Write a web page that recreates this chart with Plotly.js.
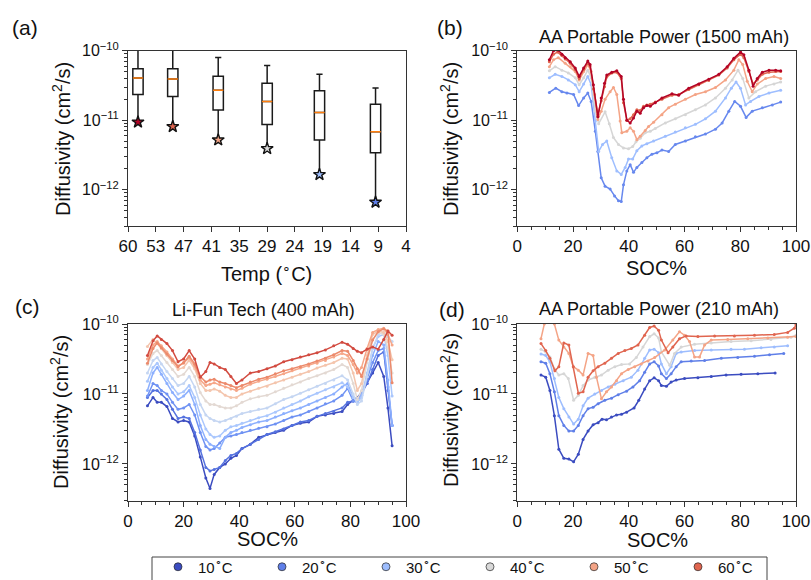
<!DOCTYPE html>
<html><head><meta charset="utf-8">
<script src="https://cdn.plot.ly/plotly-3.0.1.min.js"></script>
<style>html,body{margin:0;padding:0;background:#fff}#chart{width:811px;height:580px}</style>
</head><body><div id="chart"></div>
<script>
// ---------- (a) box statistics (cm^2/s) ----------
const boxTempC   = [57.6, 49.5, 39.5, 29.4, 19.3, 9.2];
const boxMin     = [9.4e-12, 8.1e-12, 5.2e-12, 3.9e-12, 1.65e-12, 6.6e-13];
const boxQ1      = [2.35e-11, 2.2e-11, 1.4e-11, 8.7e-12, 5.2e-12, 3.4e-12];
const boxMedian  = [4.06e-11, 3.9e-11, 2.7e-11, 1.85e-11, 1.29e-11, 6.8e-12];
const boxQ3      = [5.5e-11, 5.5e-11, 4.3e-11, 3.4e-11, 2.65e-11, 1.7e-11];
const boxMax     = [1.1e-10, 1.1e-10, 8.0e-11, 6.1e-11, 4.6e-11, 2.9e-11];
const starColors = ['#b40426', '#e0654f', '#f4a486', '#dcdcdc', '#9dbdfe', '#5f7fe8'];
const tempTickLabels = ['60','53','47','41','35','29','24','19','14','9','4'];
const yTickVals = [1e-12, 1e-11, 1e-10];
const yTickText = ['10<sup>−12</sup>', '10<sup>−11</sup>', '10<sup>−10</sup>'];

// ---------- (b) AA Portable Power 1500 mAh : log10 D ----------
const b_soc_hot = [11.5,13,14.5,16,17.2,19,20.8,22.2,23.8,25.3,26.1,27.3,28.9,30.1,31.3,32.1,33.9,35.7,37.3,38.1,39.3,40.5,41.7,42.9,44.1,45.3,46.5,47.7,49.5,51.9,55.5,57.9,61.5,65.1,68.7,72.3,75.3,77.7,80.1,81.3,83.1,84.6,86.1,87.9,90.3,92.7,94.5];
const b_log_70 = [-10.13,-10.0,-9.99,-10.05,-10.10,-10.16,-10.25,-10.37,-10.25,-10.15,-10.20,-10.49,-10.95,-10.68,-10.47,-10.35,-10.31,-10.29,-10.37,-10.70,-11.0,-11.04,-10.97,-10.87,-10.90,-10.82,-10.79,-10.80,-10.75,-10.68,-10.62,-10.64,-10.54,-10.48,-10.41,-10.34,-10.23,-10.11,-10.02,-10.06,-10.28,-10.51,-10.40,-10.31,-10.28,-10.28,-10.29];
const b_log_60 = [-10.16,-10.05,-10.02,-10.07,-10.12,-10.18,-10.27,-10.40,-10.27,-10.17,-10.22,-10.55,-10.92,-10.72,-10.52,-10.38,-10.32,-10.31,-10.40,-10.75,-11.0,-10.98,-10.92,-10.85,-10.86,-10.80,-10.78,-10.77,-10.74,-10.70,-10.64,-10.63,-10.56,-10.49,-10.43,-10.35,-10.25,-10.13,-10.05,-10.10,-10.30,-10.48,-10.42,-10.34,-10.31,-10.30,-10.30];
const b_soc_50 = [11.5,13,14.7,17.2,19,20.8,22.2,23.8,25.3,26.5,27.7,28.9,30.1,31.5,33.3,34.5,35.7,36.9,37.5,39.3,40.5,41.7,42.9,44.1,45.9,47.1,48.9,51.9,54.3,56.7,60.3,63.9,67.5,71.1,74.7,77.7,79.5,80.9,82.5,84.3,86.1,89.1,92.1,94.5];
const b_log_50 = [-10.23,-10.13,-10.10,-10.18,-10.23,-10.30,-10.42,-10.30,-10.20,-10.30,-10.63,-10.99,-10.87,-10.70,-10.59,-10.53,-10.63,-11.01,-11.18,-11.16,-11.11,-11.16,-11.28,-11.23,-11.15,-11.09,-11.03,-10.92,-10.82,-10.77,-10.70,-10.63,-10.59,-10.53,-10.42,-10.28,-10.13,-10.20,-10.44,-10.59,-10.48,-10.40,-10.37,-10.40];
const b_soc_40 = [11.5,13.6,16,18.3,20.8,22.2,23.8,25.3,26.5,28,29.2,31.5,33,34.5,36.3,38.1,39.9,41.4,42.6,44.1,45.9,47.7,49.5,53.1,56.7,60.3,63.9,67.5,71.1,74.7,77.1,79.2,80.9,83.1,85.5,89.1,92.1,94.5];
const b_log_40 = [-10.29,-10.23,-10.28,-10.32,-10.39,-10.49,-10.39,-10.28,-10.39,-10.87,-11.05,-10.88,-11.05,-11.25,-11.35,-11.40,-11.41,-11.38,-11.31,-11.26,-11.18,-11.16,-11.12,-11.04,-10.98,-10.92,-10.85,-10.78,-10.68,-10.54,-10.42,-10.28,-10.40,-10.68,-10.59,-10.51,-10.48,-10.45];
const b_soc_30 = [11.5,13.6,16,18.3,20.8,22.2,23.8,25.3,26.5,28,29.2,30.6,32.1,33.9,35.7,37.3,38.7,39.9,41.4,42.9,44.7,46.5,48.9,53.1,56.7,60.3,63.9,67.5,71.1,74.7,76.8,78.5,80.1,81.9,83.7,86.7,90.3,94.5];
const b_log_30 = [-10.39,-10.34,-10.37,-10.42,-10.49,-10.59,-10.48,-10.37,-10.49,-11.01,-11.45,-11.35,-11.30,-11.54,-11.73,-11.78,-11.68,-11.56,-11.56,-11.44,-11.37,-11.34,-11.30,-11.23,-11.17,-11.11,-11.06,-10.98,-10.87,-10.68,-10.54,-10.45,-10.54,-10.78,-10.73,-10.66,-10.61,-10.57];
const b_soc_20 = [11.5,13.8,16,17.8,20.2,22,23.8,25.3,26.5,28,28.9,30.1,31.5,33.3,34.9,36.3,37.3,38.1,39.3,40.5,41.7,42.9,44.7,46.5,48.3,50.1,51.9,54.3,56.7,60.3,63.9,67.5,71.1,73.5,75.9,78,80.1,82.1,84.3,87.9,91.5,94.5];
const b_log_20 = [-10.60,-10.54,-10.59,-10.61,-10.63,-10.79,-10.68,-10.61,-10.73,-11.16,-11.45,-11.83,-11.95,-11.99,-12.09,-12.16,-12.17,-11.93,-11.73,-11.64,-11.75,-11.68,-11.61,-11.54,-11.49,-11.47,-11.43,-11.45,-11.35,-11.30,-11.24,-11.20,-11.13,-11.04,-10.87,-10.73,-10.80,-10.96,-10.87,-10.82,-10.78,-10.74];

// ---------- (c) Li-Fun Tech 400 mAh : log10 D ----------
const c_soc = [7,9,10.5,12,14,16,18,20,22,24,26,28,29.5,31,33,35,37,39,41,44,47,50,53,56,59,62,65,68,71,74,77,79,81,82.5,84,86,88,90,92,93.5,95];
const c_log_60 = [-10.45,-10.24,-10.17,-10.22,-10.28,-10.38,-10.54,-10.50,-10.38,-10.50,-10.76,-10.68,-10.55,-10.57,-10.62,-10.65,-10.75,-10.85,-10.80,-10.70,-10.68,-10.64,-10.60,-10.54,-10.51,-10.47,-10.44,-10.41,-10.37,-10.31,-10.26,-10.29,-10.35,-10.39,-10.41,-10.36,-10.33,-10.36,-10.22,-10.10,-10.16];
const c_log_55 = [-10.56,-10.35,-10.27,-10.34,-10.43,-10.52,-10.61,-10.55,-10.46,-10.57,-10.75,-10.83,-10.80,-10.79,-10.83,-10.85,-10.88,-10.91,-10.88,-10.83,-10.79,-10.76,-10.71,-10.67,-10.64,-10.61,-10.57,-10.53,-10.49,-10.44,-10.38,-10.39,-10.52,-10.64,-10.75,-10.50,-10.23,-10.11,-10.07,-10.10,-10.84];
const c_log_50 = [-10.50,-10.30,-10.25,-10.31,-10.40,-10.50,-10.60,-10.56,-10.48,-10.60,-10.80,-10.88,-10.86,-10.84,-10.87,-10.90,-10.93,-10.95,-10.92,-10.86,-10.82,-10.79,-10.75,-10.71,-10.67,-10.63,-10.60,-10.56,-10.52,-10.47,-10.42,-10.45,-10.58,-10.70,-10.62,-10.35,-10.12,-10.08,-10.06,-10.15,-10.30];
const c_log_45 = [-10.32,-10.22,-10.28,-10.35,-10.45,-10.55,-10.65,-10.62,-10.52,-10.64,-10.85,-10.95,-10.95,-10.93,-10.96,-11.02,-11.05,-11.05,-11.00,-10.96,-10.92,-10.89,-10.84,-10.80,-10.76,-10.72,-10.68,-10.63,-10.59,-10.55,-10.49,-10.50,-10.70,-10.95,-10.85,-10.45,-10.15,-10.10,-10.12,-10.25,-10.51];
const c_log_40 = [-10.58,-10.42,-10.38,-10.45,-10.55,-10.65,-10.75,-10.72,-10.62,-10.75,-10.98,-11.10,-11.15,-11.15,-11.18,-11.20,-11.20,-11.17,-11.12,-11.07,-11.04,-11.02,-10.97,-10.92,-10.87,-10.83,-10.78,-10.74,-10.70,-10.65,-10.58,-10.62,-10.85,-11.08,-10.95,-10.55,-10.22,-10.12,-10.15,-10.35,-10.70];
const c_log_35 = [-10.70,-10.52,-10.48,-10.57,-10.68,-10.78,-10.88,-10.85,-10.75,-10.90,-11.15,-11.30,-11.35,-11.38,-11.40,-11.38,-11.35,-11.32,-11.28,-11.25,-11.22,-11.20,-11.14,-11.08,-11.04,-10.99,-10.94,-10.89,-10.85,-10.80,-10.74,-10.80,-11.00,-11.15,-11.10,-10.75,-10.35,-10.15,-10.12,-10.18,-10.25];
const c_log_30 = [-10.82,-10.62,-10.56,-10.66,-10.78,-10.90,-11.00,-10.97,-10.88,-11.05,-11.30,-11.50,-11.58,-11.62,-11.60,-11.52,-11.47,-11.45,-11.42,-11.38,-11.34,-11.31,-11.26,-11.20,-11.15,-11.10,-11.04,-10.99,-10.94,-10.90,-10.84,-10.90,-11.05,-11.12,-11.05,-10.70,-10.35,-10.18,-10.15,-10.45,-11.03];
const c_log_25 = [-10.95,-10.70,-10.62,-10.72,-10.85,-10.98,-11.08,-11.03,-10.95,-11.15,-11.45,-11.65,-11.72,-11.75,-11.78,-11.62,-11.55,-11.52,-11.48,-11.44,-11.40,-11.38,-11.33,-11.28,-11.24,-11.20,-11.15,-11.10,-11.05,-11.00,-10.90,-10.85,-11.05,-11.10,-11.02,-10.75,-10.45,-10.25,-10.30,-10.80,-11.45];
const c_log_20 = [-11.03,-10.85,-10.88,-10.95,-11.00,-11.12,-11.22,-11.20,-11.15,-11.30,-11.55,-11.75,-11.80,-11.78,-11.70,-11.62,-11.60,-11.58,-11.55,-11.52,-11.49,-11.47,-11.43,-11.38,-11.33,-11.30,-11.25,-11.20,-11.14,-11.10,-11.02,-10.92,-11.10,-11.12,-11.02,-10.80,-10.55,-10.38,-10.35,-10.90,-11.45];
const c_log_15 = [-11.05,-10.95,-10.95,-11.00,-11.08,-11.22,-11.35,-11.33,-11.35,-11.55,-11.80,-12.05,-12.10,-12.08,-12.05,-11.95,-11.88,-11.85,-11.78,-11.72,-11.65,-11.58,-11.54,-11.50,-11.45,-11.40,-11.38,-11.32,-11.28,-11.25,-11.20,-11.12,-11.10,-11.08,-11.00,-10.85,-10.65,-10.45,-10.40,-10.95,-11.45];
const c_log_10 = [-11.17,-11.05,-11.12,-11.12,-11.18,-11.35,-11.40,-11.38,-11.40,-11.60,-11.90,-12.20,-12.35,-12.15,-12.05,-12.00,-11.92,-11.88,-11.78,-11.72,-11.62,-11.58,-11.55,-11.52,-11.45,-11.42,-11.40,-11.32,-11.30,-11.28,-11.25,-11.15,-11.10,-11.05,-10.98,-10.85,-10.70,-10.55,-10.75,-11.20,-11.74];

// ---------- (d) AA Portable Power 210 mAh : log10 D ----------
const d_soc_10 = [8.5,10.2,11.7,13.3,14.9,16.7,18.5,20.2,21.9,23.6,25.4,27.2,29,30.4,32,33.8,35.6,37.4,39.2,41.9,43.6,45.7,47.5,49.1,50.7,51.7,53.5,55.2,57,60,64.8,69.6,74.9,80.3,86.3,92.5];
const d_log_10 = [-10.73,-10.76,-10.95,-11.31,-11.79,-11.92,-11.93,-11.97,-11.86,-11.65,-11.53,-11.44,-11.41,-11.36,-11.37,-11.33,-11.30,-11.29,-11.26,-11.20,-11.09,-10.93,-10.81,-10.77,-10.81,-10.88,-10.89,-10.83,-10.80,-10.78,-10.77,-10.75,-10.73,-10.72,-10.71,-10.70];
const d_soc_20 = [8.5,10.2,11.7,13.3,14.9,16.7,18.5,20.2,21.9,23.6,25.4,27.2,29,31.4,33.8,36.2,39.2,41.5,43.9,45.7,47.5,49.1,50.7,51.7,53.5,55.2,57,58.8,62.4,67.2,73.2,79.1,85.1,90.5,95.6];
const d_log_20 = [-10.54,-10.56,-10.71,-10.97,-11.31,-11.45,-11.53,-11.53,-11.45,-11.31,-11.21,-11.19,-11.14,-11.09,-11.06,-11.01,-10.96,-10.90,-10.81,-10.69,-10.57,-10.54,-10.60,-10.71,-10.78,-10.71,-10.61,-10.54,-10.53,-10.52,-10.49,-10.48,-10.46,-10.44,-10.42];
const d_soc_30 = [8.5,10.2,11.7,13.3,14.9,16.7,18.5,20.2,21.9,23.6,25.4,27.8,30.2,32.6,35,38,40.9,43.3,45.7,47.5,49.1,50.7,51.7,53.5,55.2,57,58.8,63.6,69.6,76.7,81.5,87.5,92.2,97];
const d_log_30 = [-10.43,-10.45,-10.54,-10.78,-11.05,-11.21,-11.33,-11.43,-11.36,-11.17,-11.06,-11.00,-10.95,-10.90,-10.86,-10.81,-10.76,-10.66,-10.49,-10.37,-10.36,-10.41,-10.57,-10.71,-10.61,-10.42,-10.40,-10.38,-10.37,-10.36,-10.36,-10.34,-10.33,-10.31];
const d_soc_40 = [8.5,10.2,11.7,13.3,14.9,16.7,18.3,20.2,21.9,23.6,25.4,27.8,30.2,32.6,35,37.4,40.3,42.7,45.1,47.5,49.1,50.7,51.7,54.7,56.4,58.8,63.6,69.6,76.7,83.9,91,98.2,100];
const d_log_40 = [-10.36,-10.40,-10.47,-10.64,-10.73,-10.71,-10.78,-11.09,-11.02,-10.88,-10.80,-10.76,-10.73,-10.66,-10.61,-10.58,-10.57,-10.48,-10.33,-10.18,-10.14,-10.20,-10.40,-10.59,-10.42,-10.33,-10.29,-10.27,-10.25,-10.24,-10.22,-10.19,-10.16];
const d_soc_50 = [8.5,9.7,11,13.3,14.9,16.7,18.5,20.1,21.9,23.6,25.4,27.2,28.4,30.2,32,33.8,35.6,37.4,39.8,42.1,44.5,46.9,49.3,52.9,55.8,58.2,60,61.8,63.6,65.4,67.2,69.6,75.5,82.7,89.9,97,100];
const d_log_50 = [-10.21,-10.0,-9.85,-10.0,-10.23,-10.33,-10.42,-10.61,-10.66,-10.73,-10.42,-10.45,-10.76,-11.07,-10.97,-10.90,-10.81,-10.71,-10.65,-10.61,-10.57,-10.53,-10.48,-10.37,-10.23,-10.11,-10.16,-10.25,-10.47,-10.47,-10.30,-10.23,-10.22,-10.21,-10.20,-10.19,-10.18];
const d_soc_60 = [8.5,10.2,11.7,13.5,14.9,16.7,18.5,20.1,21.9,23.6,25.4,27.2,29,31.4,33.8,36.2,38.6,40.9,43.3,45.7,47.5,49.1,50.7,51.7,54.1,55.8,58.2,60.6,64.8,70.8,77.9,85.1,92.2,97,99.4,100];
const d_log_60 = [-10.28,-10.38,-10.49,-10.67,-10.61,-10.27,-10.30,-10.61,-10.99,-10.97,-10.76,-10.67,-10.61,-10.56,-10.49,-10.42,-10.38,-10.35,-10.30,-10.16,-10.05,-10.03,-10.09,-10.23,-10.41,-10.33,-10.21,-10.17,-10.18,-10.17,-10.17,-10.16,-10.15,-10.12,-10.06,-10.01];

// ---------- legend ----------
const legendLabels = ['10','20','30','40','50','60'];
const legendColors = ['#3b4cc0','#5f7fe8','#9dbdfe','#d9d9d9','#f4a486','#e0654f'];

// ---------- build ----------
const FONT = 'Liberation Sans, Arial, Helvetica, sans-serif';
const toD = arr => arr.map(v => Math.pow(10, v));
const traces = [];

// panel (a)
const invT = t => 1000 / (t + 273.15);
const xBox = boxTempC.map(invT);
const xLo = invT(60), xHi = invT(4);
const tempTickVals = tempTickLabels.map((_, i) => xLo + (xHi - xLo) * i / (tempTickLabels.length - 1));
traces.push({type:'box', x:xBox, q1:boxQ1, median:boxMedian, q3:boxQ3, lowerfence:boxMin, upperfence:boxMax,
  xaxis:'x', yaxis:'y', width:0.0225, whiskerwidth:0.6, boxpoints:false,
  line:{color:'#1a1a1a', width:1.5}, fillcolor:'rgba(0,0,0,0)', showlegend:false, hoverinfo:'skip'});
traces.push({type:'box', x:xBox, q1:boxMedian, median:boxMedian, q3:boxMedian, lowerfence:boxMedian, upperfence:boxMedian,
  xaxis:'x', yaxis:'y', width:0.0225, whiskerwidth:0, boxpoints:false,
  line:{color:'#ff7f0e', width:1.5}, fillcolor:'rgba(0,0,0,0)', showlegend:false, hoverinfo:'skip'});
traces.push({type:'scatter', mode:'markers', x:xBox, y:boxMin, xaxis:'x', yaxis:'y', cliponaxis:false,
  marker:{symbol:'star', size:9, color:starColors, line:{color:'#111', width:1.4}}, showlegend:false, hoverinfo:'skip'});

function line(xa, ya, soc, logD, color) {
  traces.push({type:'scatter', mode:'lines+markers', x:soc, y:toD(logD), xaxis:xa, yaxis:ya,
    line:{color:color, width:1.5}, marker:{color:color, size:3}, showlegend:false, hoverinfo:'skip'});
}
// panel (b)
line('x2','y2', b_soc_20, b_log_20, '#6788ee');
line('x2','y2', b_soc_30, b_log_30, '#9ebeff');
line('x2','y2', b_soc_40, b_log_40, '#d6d6d6');
line('x2','y2', b_soc_50, b_log_50, '#f4a486');
line('x2','y2', b_soc_hot, b_log_60, '#e0654f');
line('x2','y2', b_soc_hot, b_log_70, '#b40426');
// panel (c)
const cSeries = [[c_log_10,'#3b4cc0'],[c_log_15,'#5572df'],[c_log_20,'#6f92f3'],[c_log_25,'#8db0fe'],[c_log_30,'#aac7fd'],
  [c_log_35,'#c5d6f2'],[c_log_40,'#e3d9d3'],[c_log_45,'#f4c5ad'],[c_log_50,'#f6a789'],[c_log_55,'#ec8a6c'],[c_log_60,'#d24b40']];
cSeries.forEach(([v, c]) => line('x3','y3', c_soc, v, c));
// panel (d)
line('x4','y4', d_soc_10, d_log_10, '#3b4cc0');
line('x4','y4', d_soc_20, d_log_20, '#5f7fe8');
line('x4','y4', d_soc_30, d_log_30, '#9dbdfe');
line('x4','y4', d_soc_40, d_log_40, '#d6d6d6');
line('x4','y4', d_soc_50, d_log_50, '#f4a486');
line('x4','y4', d_soc_60, d_log_60, '#e0654f');
// legend entries
legendLabels.forEach((t, i) => traces.push({type:'scatter', mode:'markers', x:[null], y:[null], xaxis:'x4', yaxis:'y4',
  name: t + '<sup>∘</sup>C', marker:{color:legendColors[i], size:8, line:{color:'rgba(40,40,40,0.7)', width:1}}, hoverinfo:'skip'}));

const yRange = [Math.log10(3e-13), -10];
const minorVals = [];
[-13, -12, -11].forEach(e => { for (let m = 2; m <= 9; m++) minorVals.push(m * Math.pow(10, e)); });
function yAx(domain, anchor) {
  return {type:'log', range:yRange, domain, anchor, tickmode:'array', tickvals:yTickVals, ticktext:yTickText,
    ticks:'outside', ticklen:5, tickwidth:1, tickcolor:'#333', showline:true, mirror:true, linecolor:'#333', linewidth:1,
    showgrid:false, zeroline:false, tickfont:{size:16, color:'#111', family:FONT},
    minor:{tickmode:'array', tickvals:minorVals, ticks:'outside', ticklen:3, tickwidth:1, tickcolor:'#333', showgrid:false}};
}
function socAx(domain, anchor) {
  return {range:[0,100], domain, anchor, dtick:20, tick0:0, ticks:'outside', ticklen:5, tickwidth:1, tickcolor:'#333',
    showline:true, mirror:true, linecolor:'#333', linewidth:1, showgrid:false, zeroline:false,
    tickfont:{size:17, color:'#111', family:FONT},
    minor:{ticks:'outside', ticklen:3, tickwidth:1, tickcolor:'#333', dtick:5, showgrid:false}};
}
const W = 811, H = 580;
const px = x => x / W, py = y => 1 - y / H;
const rowTop = [py(226), py(50.7)], rowBot = [py(500.5), py(324)];
const colL = [px(128), px(406)], colR = [px(517.3), px(796)];

const layout = {
  width:W, height:H, margin:{l:0, r:0, t:0, b:0, autoexpand:false}, paper_bgcolor:'#fff', plot_bgcolor:'#fff',
  font:{family:FONT, color:'#111'}, boxmode:'overlay', showlegend:true,
  xaxis:{range:[xLo, xHi], domain:colL, anchor:'y', tickmode:'array', tickvals:tempTickVals, ticktext:tempTickLabels,
    ticks:'outside', ticklen:5, tickwidth:1, tickcolor:'#333', showline:true, mirror:true, linecolor:'#333', linewidth:1,
    showgrid:false, zeroline:false, tickfont:{size:17, color:'#111', family:FONT}},
  yaxis:yAx(rowTop, 'x'),
  xaxis2:socAx(colR, 'y2'), yaxis2:yAx(rowTop, 'x2'),
  xaxis3:socAx(colL, 'y3'), yaxis3:yAx(rowBot, 'x3'),
  xaxis4:socAx(colR, 'y4'), yaxis4:yAx(rowBot, 'x4'),
  legend:{orientation:'h', x:px(158), y:py(550.5), xanchor:'left', yanchor:'top', bgcolor:'rgba(0,0,0,0)',
    borderwidth:0, font:{size:15, family:FONT, color:'#111'}, entrywidth:59, entrywidthmode:'pixels'},
  shapes:[{type:'rect', xref:'paper', yref:'paper', x0:px(152), x1:px(767), y0:py(557), y1:py(600),
    line:{color:'#444', width:1}, fillcolor:'rgba(0,0,0,0)', layer:'below'}],
  annotations:[]
};
function ann(text, x, y, size, angle) {
  layout.annotations.push({text, x:px(x), y:py(y), xref:'paper', yref:'paper', showarrow:false,
    xanchor:'center', yanchor:'middle', textangle:angle || 0, font:{size, family:FONT, color:'#111'}});
}
ann('(a)', 25, 27, 21); ann('(b)', 450, 27, 21); ann('(c)', 27, 306, 21); ann('(d)', 452, 309, 21);
ann('AA Portable Power (1500 mAh)', 664, 37, 18);
ann('Li-Fun Tech (400 mAh)', 263, 310, 18);
ann('AA Portable Power (210 mAh)', 659, 309, 18);
const yLab = 'Diffusivity (cm<sup>2</sup>/s)';
ann(yLab, 61, 139, 20, -90); ann(yLab, 449, 139, 20, -90); ann(yLab, 59, 412, 20, -90); ann(yLab, 449, 410, 20, -90);
ann('Temp (<sup>∘</sup>C)', 266, 272, 20);
ann('SOC%', 656, 268, 20); ann('SOC%', 267, 539, 20); ann('SOC%', 657, 540, 20);

Plotly.newPlot('chart', traces, layout, {staticPlot:true, displayModeBar:false});
</script></body></html>
